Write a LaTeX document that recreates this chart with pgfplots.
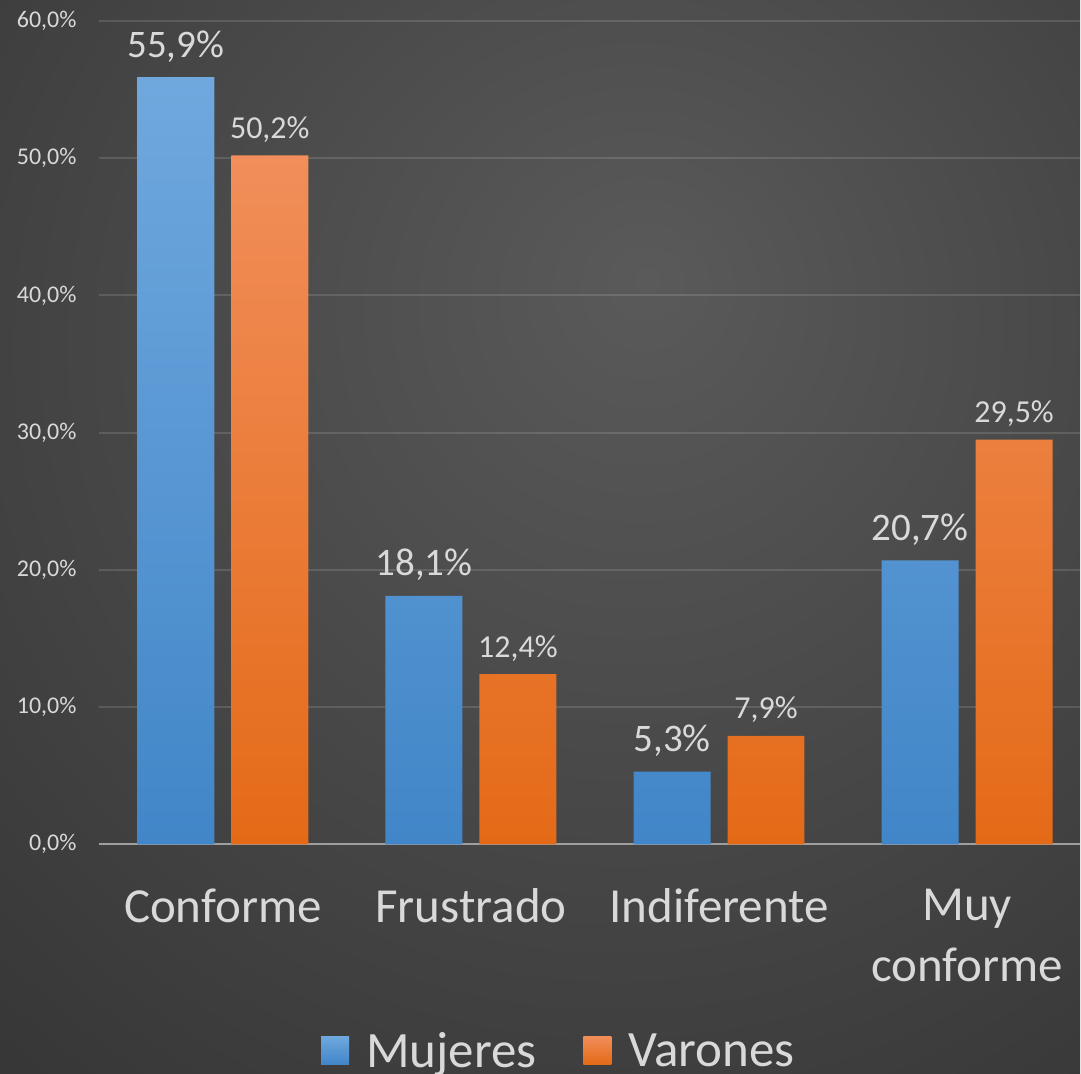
\documentclass[border=0pt]{standalone}
\usepackage{fontspec}
\setmainfont{Carlito}
\usepackage{pgfplots}
\pgfplotsset{compat=1.18}
\definecolor{bgin}{HTML}{5A5A5A}
\definecolor{bgout}{HTML}{262626}
\definecolor{txt}{HTML}{D9D9D9}
\definecolor{blueT}{HTML}{70A8DE}
\definecolor{blueB}{HTML}{4186C8}
\definecolor{orT}{HTML}{F18E5A}
\definecolor{orB}{HTML}{E46A17}
% background: lighter spot a little right of and above the middle
\pgfdeclareradialshading{bgshade}{\pgfpoint{5bp}{12bp}}{color(0bp)=(bgin); color(62bp)=(bgout); color(100bp)=(bgout)}

\begin{document}
\begin{tikzpicture}
\shade[shading=bgshade] (0pt,0pt) rectangle (540.5pt,537pt);
\begin{axis}[
  at={(111.5pt,114.5pt)}, anchor=origin,
  scale only axis, width=491pt, height=412pt,
  xmin=-0.5, xmax=3.455, ymin=0, ymax=60,
  ybar=8.5pt, bar width=38.5pt,
  axis x line=bottom, axis y line=left,
  y axis line style={draw=none},
  x axis line style={-, draw=gray!75, line width=1pt},
  tick style={draw=none},
  ymajorgrids, major grid style={white, opacity=0.13, line width=1pt},
  xtick={0,1,2,3},
  xticklabels={Conforme,Frustrado,Indiferente,{Muy\\conforme}},
  xticklabel style={align=center, text=txt, font=\fontsize{24.5}{31}\selectfont, yshift=-16.5pt},
  ytick={0,10,...,60},
  yticklabel={\pgfmathprintnumber[fixed,fixed zerofill,precision=1,use comma]{\tick}\%},
  yticklabel style={text=txt, font=\fontsize{12}{14}\selectfont, xshift=-5.5pt},
  /pgf/number format/assume math mode=true,
  nodes near coords={\pgfmathprintnumber[fixed,fixed zerofill,precision=1,use comma]{\pgfplotspointmeta}\%},
  every node near coord/.append style={text=txt},
  legend style={at={(rel axis cs:0.468,-0.25)}, anchor=center, draw=none, fill=none,
    inner sep=0pt, outer sep=0pt,
    nodes={inner sep=0pt, outer sep=0pt, text depth=0pt},
    text=txt, font=\fontsize{25.5}{27}\selectfont,
    /tikz/every odd column/.append style={column sep=8.5pt},
    /tikz/every even column/.append style={column sep=23.5pt}},
  legend columns=2,
  legend image code/.code={\path[#1,draw=none] (0pt,-7pt) rectangle (14pt,7pt);},
]
\addplot[draw=none, top color=blueT, bottom color=blueB,
  every node near coord/.append style={font=\fontsize{19.5}{21}\selectfont, yshift=4pt}]
  coordinates {(0,55.9) (1,18.1) (2,5.3) (3,20.7)};
\addlegendentry{Mujeres}
\addplot[draw=none, top color=orT, bottom color=orB,
  every node near coord/.append style={font=\fontsize{16}{18}\selectfont, yshift=3pt}]
  coordinates {(0,50.2) (1,12.4) (2,7.9) (3,29.5)};
\addlegendentry{Varones}
\end{axis}
\end{tikzpicture}
\end{document}
